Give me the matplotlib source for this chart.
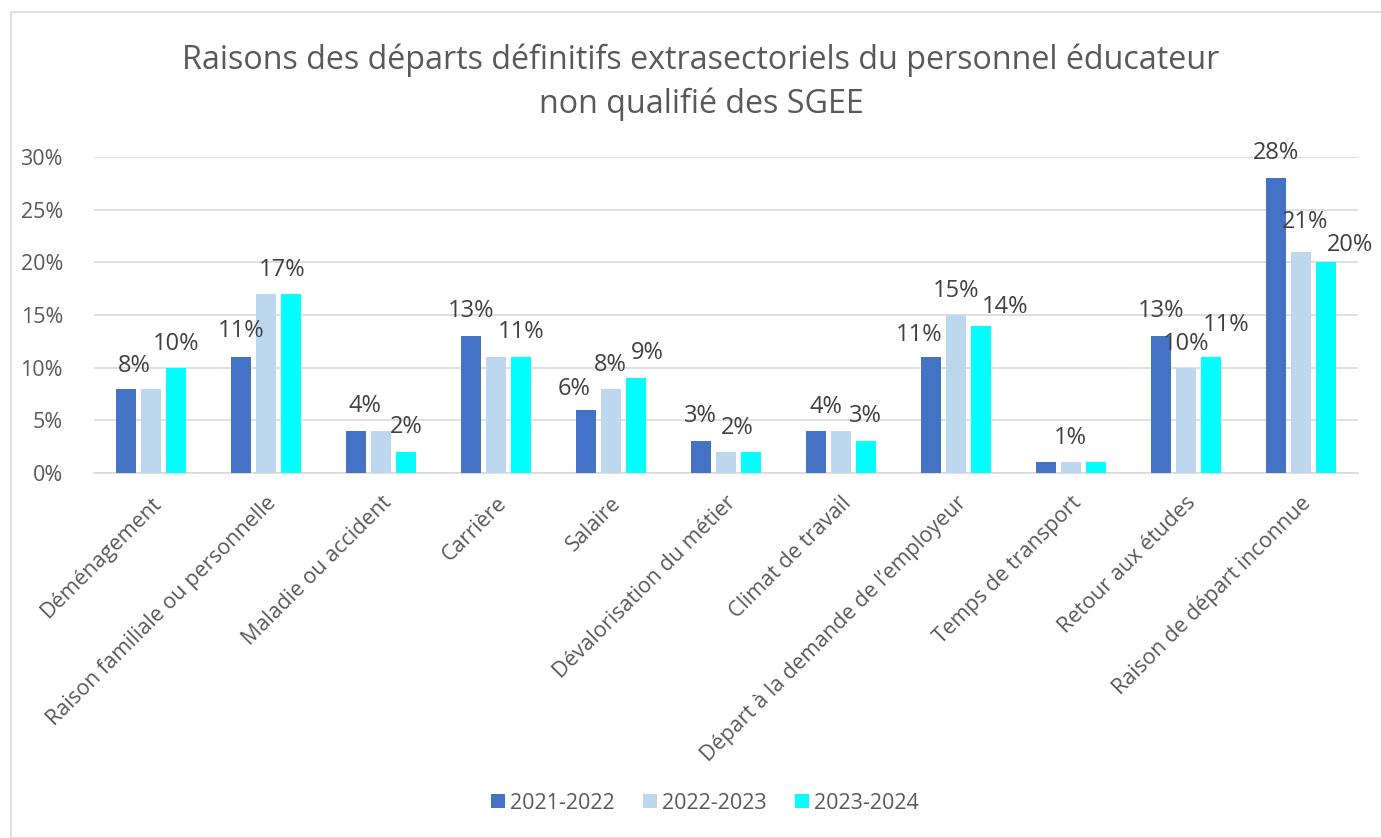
import matplotlib
matplotlib.use("Agg")
import matplotlib.pyplot as plt
from matplotlib.patches import Rectangle
import numpy as np

plt.rcParams['font.family'] = ['Open Sans', 'DejaVu Sans']

categories = ["Déménagement", "Raison familiale ou personnelle", "Maladie ou accident",
              "Carrière", "Salaire", "Dévalorisation du métier", "Climat de travail",
              "Départ à la demande de l\u2019employeur", "Temps de transport",
              "Retour aux études", "Raison de départ inconnue"]
series_names = ["2021-2022", "2022-2023", "2023-2024"]
v2122 = [8, 11, 4, 13, 6, 3, 4, 11, 1, 13, 28]
v2223 = [8, 17, 4, 11, 8, 2, 4, 15, 1, 10, 21]
v2324 = [10, 17, 2, 11, 9, 2, 3, 14, 1, 11, 20]
series_values = [v2122, v2223, v2324]
colors = ["#4472C4", "#BDD7EE", "#00FFFF"]
yticks = [0, 5, 10, 15, 20, 25, 30]

# data labels: (category, anchor position in bar slots, text, y-offset px)
labels = [
    (0, 0.34, "8%", 17), (0, 2.0, "10%", 18),
    (1, 0.0, "11%", 20), (1, 1.64, "17%", 18),
    (2, 0.36, "4%", 19), (2, 2.0, "2%", 19),
    (3, 0.0, "13%", 19), (3, 2.0, "11%", 19),
    (4, -0.48, "6%", 15), (4, 1.0, "8%", 18), (4, 2.48, "9%", 19),
    (5, 0.0, "3%", 19), (5, 1.48, "2%", 18),
    (6, 0.4, "4%", 18), (6, 2.0, "3%", 19),
    (7, -0.48, "11%", 16), (7, 1.0, "15%", 18), (7, 2.96, "14%", 13),
    (8, 1.0, "1%", 18),
    (9, 0.0, "13%", 19), (9, 1.0, "10%", 18), (9, 2.64, "11%", 26),
    (10, 0.0, "28%", 19), (10, 1.2, "21%", 24), (10, 2.96, "20%", 11),
]

W, H = 1381, 838
fig = plt.figure(figsize=(W / 100, H / 100), dpi=100)
fig.patches.append(Rectangle((11 / W, 0), 1.2, (H - 12) / H, transform=fig.transFigure,
                             fill=False, edgecolor="#D9D9D9", linewidth=1.2))

ax = fig.add_axes([93.5 / W, (H - 473) / H, (1358 - 93.5) / W, (473 - 157) / H])
x = np.arange(len(categories))
pitch = 25 / 115
width = 20 / 115
for i, (name, vals, c) in enumerate(zip(series_names, series_values, colors)):
    ax.bar(x + (i - 1) * pitch, vals, width=width, color=c, label=name, zorder=3)

for cat, pos, txt, dy in labels:
    lo = int(np.floor(max(pos, 0)))
    hi = int(np.ceil(min(pos, 2)))
    yv = max(series_values[k][cat] for k in range(lo, hi + 1))
    ax.annotate(txt, xy=(x[cat] + (pos - 1) * pitch, yv), xytext=(0, dy),
                textcoords="offset pixels", ha="center", va="baseline",
                fontsize=17, color="#404040", zorder=5)

ax.set_xlim(-0.5, len(categories) - 0.5)
ax.set_ylim(0, 30)
ax.set_yticks(yticks)
ax.set_yticklabels([f"{t}%" for t in yticks], fontsize=15.5, color="#595959")
ax.yaxis.grid(True, color="#D9D9D9", linewidth=1.2, zorder=0)
ax.tick_params(axis="y", length=0, pad=22)
ax.tick_params(axis="x", length=0, pad=14)
ax.set_xticks(x)
ax.set_xticklabels(categories, rotation=45, ha="right", va="top",
                   rotation_mode="anchor", fontsize=15.5, color="#595959")
for s in ["top", "right", "left"]:
    ax.spines[s].set_visible(False)
ax.spines["bottom"].set_color("#D9D9D9")
ax.spines["bottom"].set_linewidth(1.2)

fig.text(701 / W, 1 - 60 / H, "Raisons des départs définitifs extrasectoriels du personnel éducateur",
         ha="center", va="center", fontsize=23.2, color="#595959")
fig.text(701 / W, 1 - 104 / H, "non qualifié des SGEE",
         ha="center", va="center", fontsize=23.2, color="#595959")

leg = fig.legend(loc="center", bbox_to_anchor=(705 / W, 1 - 803 / H), ncol=3, frameon=False,
                 fontsize=15.5, handlelength=0.65, handleheight=0.65, handletextpad=0.25,
                 columnspacing=1.3)
for t in leg.get_texts():
    t.set_color("#595959")

fig.savefig("out.png", dpi=100)
